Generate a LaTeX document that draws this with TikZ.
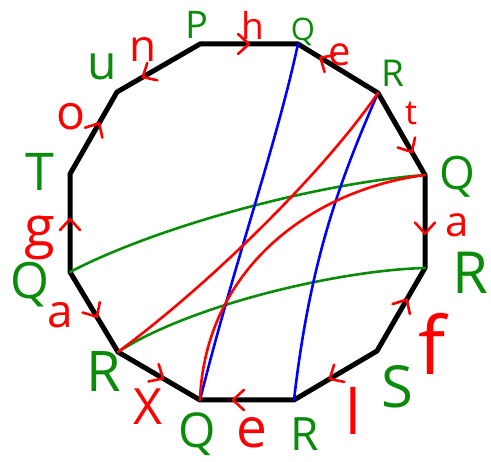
\documentclass[tikz,border=0pt]{standalone}
\usepackage{fontspec}
\setmainfont{Open Sans}
\usetikzlibrary{decorations.markings}
\definecolor{gcol}{RGB}{10,140,10}
\definecolor{rcol}{RGB}{255,0,0}
\definecolor{bcol}{RGB}{0,0,255}
\begin{document}
\begin{tikzpicture}[x=1pt,y=-1pt,
  edge/.style={line width=5pt, line join=round, black},
  chord/.style={line width=2.6pt, line cap=round},
  arr/.style={postaction={decorate, decoration={markings, mark=at position #1 with {\draw[rcol, line width=2.6pt, line cap=round, line join=round] (-11,10) -- (0,0) -- (-11,-10);}}}},
  gl/.style={text=gcol, inner sep=0pt, font=\fontsize{#1}{#1}\selectfont},
  rl/.style={text=rcol, inner sep=0pt, font=\fontsize{#1}{#1}\selectfont}]
\useasboundingbox (0,0) rectangle (491,462);
\coordinate (V1) at (200,44);
\coordinate (V2) at (298,44);
\coordinate (V3) at (378,93);
\coordinate (V4) at (425,175);
\coordinate (V5) at (425,268);
\coordinate (V6) at (377,351);
\coordinate (V7) at (294,400);
\coordinate (V8) at (200,400);
\coordinate (V9) at (118,352);
\coordinate (V10) at (70,272);
\coordinate (V11) at (70,174);
\coordinate (V12) at (117,92);
\draw[edge] (V1) -- (V2) -- (V3) -- (V4) -- (V5) -- (V6) -- (V7) -- (V8) -- (V9) -- (V10) -- (V11) -- (V12) -- cycle;
% chords
\draw[chord, gcol] (V4) .. controls (320,183) and (160,225) .. (V10);
\draw[chord, gcol] (V5) .. controls (340,270) and (190,305) .. (V9);
\draw[chord, bcol] (V2) .. controls (275,150) and (235,260) .. (V8);
\draw[chord, bcol] (V3) .. controls (340,180) and (310,260) .. (V7);
\draw[chord, rcol] (V3) .. controls (325,170) and (215,280) .. (V9);
\draw[chord, rcol] (V4) .. controls (310,190) and (205,270) .. (V8);
% arrows
\path[arr=0.5] (V1) -- (V2);
\path[arr=0.72] (V3) -- (V2);
\path[arr=0.72] (V3) -- (V4);
\path[arr=0.63] (V4) -- (V5);
\path[arr=0.62] (V6) -- (V5);
\path[arr=0.57] (V6) -- (V7);
\path[arr=0.65] (V7) -- (V8);
\path[arr=0.55] (V9) -- (V8);
\path[arr=0.56] (V10) -- (V9);
\path[arr=0.54] (V10) -- (V11);
\path[arr=0.62] (V11) -- (V12);
\path[arr=0.69] (V1) -- (V12);
% vertex labels
\node[gl=38] (L1) at (197,25) {P};
\node[gl=31] (L2) at (303,32) {Q};
\node[gl=37] (L3) at (393,73) {R};
\node[gl=46] (L4) at (457,177) {Q};
\node[gl=58] (L5) at (470,273) {R};
\node[gl=58] (L6) at (397,387) {S};
\node[gl=46] (L7) at (305,434) {R};
\node[gl=48] (L8) at (197,434) {Q};
\node[gl=56] (L9) at (104,372) {R};
\node[gl=50] (L10) at (30,285) {Q};
\node[gl=52] (L11) at (40,172) {T};
\node[gl=48] (L12) at (102,67) {u};
% edge labels
\node[rl=37] (E1) at (253,25) {h};
\node[rl=40] (E2) at (340,55) {e};
\node[rl=34] (E3) at (411,113) {t};
\node[rl=42] (E4) at (457,225) {a};
\node[rl=80] (E5) at (432,344) {f};
\node[rl=62] (E6) at (353,411) {l};
\node[rl=55] (E7) at (252,433) {e};
\node[rl=50] (E8) at (148,407) {X};
\node[rl=46] (E9) at (60,315) {a};
\node[rl=56] (E10) at (40,238) {g};
\node[rl=48] (E11) at (71,117) {o};
\node[rl=44] (E12) at (143,50) {n};
\end{tikzpicture}
\end{document}
